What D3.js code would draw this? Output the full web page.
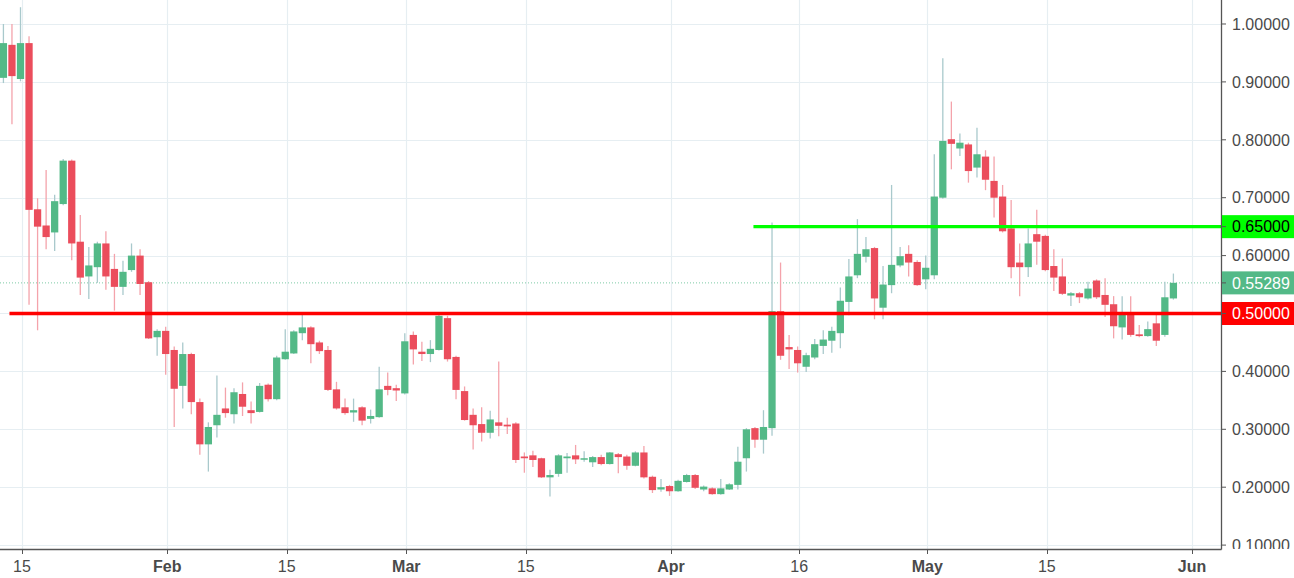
<!DOCTYPE html>
<html>
<head>
<meta charset="utf-8">
<script src="https://cdn.jsdelivr.net/npm/d3@7"></script>
<style>
  html, body { margin: 0; padding: 0; background: #ffffff; overflow: hidden; }
  svg { display: block; font-family: "Liberation Sans", Arial, sans-serif; }
</style>
</head>
<body>
<svg id="chart" width="1294" height="578"></svg>
<script>
// ---------- DATA (daily candles, 13 Jan 2018 .. 30 May 2018) ----------
const firstDay = "2018-01-13";
const lastDay = "2018-05-30";

const opens = [
  0.907,0.964,0.905,0.967,0.680,0.652,0.640,0.689,0.764,0.624,
  0.564,0.580,0.621,0.577,0.546,0.575,0.600,0.554,0.459,0.470,
  0.437,0.375,0.430,0.347,0.274,0.307,0.336,0.326,0.361,0.333,
  0.330,0.377,0.352,0.421,0.431,0.466,0.476,0.450,0.437,0.369,
  0.338,0.329,0.338,0.318,0.321,0.375,0.371,0.362,0.463,0.434,
  0.430,0.437,0.492,0.425,0.366,0.325,0.309,0.294,0.312,0.308,
  0.310,0.253,0.255,0.250,0.217,0.223,0.250,0.255,0.248,0.243,
  0.252,0.240,0.257,0.253,0.237,0.260,0.218,0.196,0.202,0.193,
  0.209,0.221,0.196,0.198,0.188,0.196,0.204,0.250,0.302,0.282,
  0.302,0.504,0.442,0.437,0.408,0.424,0.444,0.453,0.466,0.520,
  0.566,0.598,0.613,0.510,0.549,0.583,0.603,0.589,0.559,0.566,
  0.700,0.801,0.785,0.792,0.752,0.771,0.729,0.702,0.647,0.588,
  0.580,0.637,0.634,0.582,0.564,0.531,0.535,0.526,0.557,0.532,
  0.516,0.476,0.501,0.464,0.461,0.483,0.463,0.526
];
const highs = [
  1.000,1.000,1.029,0.979,0.699,0.748,0.705,0.767,0.766,0.670,
  0.615,0.624,0.642,0.603,0.591,0.621,0.611,0.556,0.473,0.477,
  0.443,0.450,0.432,0.353,0.312,0.393,0.372,0.371,0.381,0.348,
  0.380,0.379,0.427,0.473,0.471,0.500,0.478,0.453,0.444,0.382,
  0.353,0.353,0.340,0.334,0.408,0.398,0.377,0.466,0.469,0.451,
  0.454,0.500,0.496,0.427,0.374,0.336,0.338,0.332,0.417,0.320,
  0.312,0.260,0.263,0.251,0.230,0.257,0.259,0.273,0.262,0.254,
  0.256,0.261,0.259,0.256,0.262,0.271,0.220,0.214,0.204,0.213,
  0.223,0.223,0.203,0.200,0.214,0.207,0.270,0.302,0.304,0.333,
  0.657,0.588,0.463,0.443,0.432,0.456,0.471,0.477,0.545,0.594,
  0.663,0.632,0.615,0.582,0.722,0.615,0.618,0.592,0.600,0.775,
  0.941,0.866,0.811,0.795,0.821,0.782,0.771,0.722,0.696,0.621,
  0.647,0.679,0.636,0.611,0.595,0.537,0.537,0.555,0.559,0.561,
  0.530,0.530,0.530,0.480,0.486,0.501,0.555,0.569
];
const lows = [
  0.898,0.827,0.901,0.515,0.471,0.611,0.608,0.687,0.592,0.532,
  0.525,0.553,0.541,0.505,0.532,0.572,0.532,0.456,0.427,0.394,
  0.304,0.336,0.326,0.256,0.227,0.286,0.320,0.310,0.323,0.310,
  0.329,0.348,0.350,0.420,0.430,0.454,0.414,0.430,0.366,0.334,
  0.325,0.313,0.307,0.310,0.320,0.359,0.349,0.360,0.412,0.418,
  0.416,0.436,0.417,0.352,0.315,0.265,0.279,0.284,0.288,0.292,
  0.242,0.225,0.235,0.216,0.184,0.218,0.225,0.240,0.244,0.235,
  0.238,0.239,0.224,0.230,0.236,0.215,0.190,0.192,0.185,0.192,
  0.208,0.197,0.193,0.187,0.187,0.195,0.196,0.227,0.268,0.258,
  0.289,0.420,0.404,0.398,0.399,0.421,0.430,0.432,0.440,0.497,
  0.561,0.588,0.490,0.490,0.535,0.580,0.564,0.548,0.542,0.559,
  0.698,0.749,0.772,0.726,0.735,0.713,0.666,0.640,0.561,0.530,
  0.563,0.584,0.573,0.539,0.532,0.513,0.518,0.524,0.525,0.494,
  0.457,0.455,0.460,0.459,0.460,0.444,0.460,0.524
];
const closes = [
  0.967,0.910,0.967,0.679,0.650,0.632,0.694,0.764,0.621,0.562,
  0.583,0.621,0.564,0.546,0.572,0.600,0.551,0.457,0.470,0.430,
  0.370,0.430,0.347,0.274,0.304,0.325,0.328,0.364,0.339,0.328,
  0.375,0.352,0.424,0.434,0.469,0.476,0.447,0.435,0.368,0.336,
  0.328,0.333,0.315,0.323,0.369,0.368,0.367,0.452,0.438,0.430,
  0.439,0.496,0.421,0.368,0.316,0.307,0.294,0.317,0.306,0.305,
  0.247,0.250,0.247,0.217,0.221,0.255,0.253,0.248,0.250,0.252,
  0.240,0.260,0.252,0.237,0.260,0.217,0.195,0.200,0.193,0.211,
  0.221,0.199,0.201,0.188,0.198,0.205,0.244,0.300,0.282,0.304,
  0.504,0.427,0.438,0.414,0.428,0.447,0.455,0.470,0.522,0.564,
  0.603,0.611,0.526,0.550,0.584,0.599,0.588,0.549,0.579,0.702,
  0.798,0.793,0.795,0.746,0.775,0.731,0.700,0.642,0.580,0.580,
  0.621,0.624,0.575,0.562,0.534,0.535,0.528,0.543,0.528,0.515,
  0.478,0.499,0.463,0.461,0.473,0.453,0.528,0.553
];

const lastPrice = 0.55289;
const supportLevel = 0.50;
const resistanceLevel = 0.65;
const resistanceStart = "2018-04-11";
const supportStart = "2018-01-14";

const xTickDates = ["2018-01-15","2018-02-01","2018-02-15","2018-03-01","2018-03-15",
                    "2018-04-01","2018-04-16","2018-05-01","2018-05-15","2018-06-01"];
const xTickLabels = ["15","Feb","15","Mar","15","Apr","16","May","15","Jun"];
const xTickBold   = [false,true,false,true,false,true,false,true,false,true];
const yTickValues = [0.1,0.2,0.3,0.4,0.5,0.6,0.7,0.8,0.9,1.0];

// ---------- LAYOUT ----------
const W = 1294, H = 578;
const plotRight = 1221, plotBottom = 549;
const parse = d3.utcParse("%Y-%m-%d");
const DAY = 864e5;
const anchor = parse("2018-01-15");
const pxPerDay = 8.54;

const days = d3.utcDay.range(parse(firstDay), d3.utcDay.offset(parse(lastDay), 1));
const candles = days.map((d, i) => ({date: d, o: opens[i], h: highs[i], l: lows[i], c: closes[i]}));

const x = d3.scaleUtc()
  .domain([new Date(+anchor - 22 / pxPerDay * DAY), new Date(+anchor + (plotRight - 22) / pxPerDay * DAY)])
  .range([0, plotRight]);
const y = d3.scaleLinear().domain([0.09326, 1.04145]).range([plotBottom, 0]);

const UP = "#53b987", DOWN = "#eb4d5c";
const UP_WICK = "#a9c9cc", DOWN_WICK = "#f4a3ab";
const GRID = "#e6eef2";
const AXIS = "#555555";
const TEXT = "#4a4a4a";

const svg = d3.select("#chart");
svg.append("rect").attr("width", W).attr("height", H).attr("fill", "#fff");

const defs = svg.append("defs");
defs.append("clipPath").attr("id", "plotClip")
  .append("rect").attr("x", 0).attr("y", 0).attr("width", plotRight).attr("height", plotBottom);
defs.append("clipPath").attr("id", "yLabClip")
  .append("rect").attr("x", plotRight).attr("y", 0).attr("width", W - plotRight).attr("height", plotBottom);

const plot = svg.append("g").attr("clip-path", "url(#plotClip)");

// grid
const xTicks = xTickDates.map(parse);
plot.append("g").selectAll("line").data(yTickValues).join("line")
  .attr("x1", 0).attr("x2", plotRight)
  .attr("y1", d => Math.round(y(d)) + 0.5).attr("y2", d => Math.round(y(d)) + 0.5)
  .attr("stroke", GRID).attr("stroke-width", 1.2);
plot.append("g").selectAll("line").data(xTicks).join("line")
  .attr("x1", d => Math.round(x(d)) + 0.5).attr("x2", d => Math.round(x(d)) + 0.5)
  .attr("y1", 0).attr("y2", plotBottom)
  .attr("stroke", GRID).attr("stroke-width", 1.2);

// last price dotted line
plot.append("line")
  .attr("x1", 0).attr("x2", plotRight)
  .attr("y1", y(lastPrice)).attr("y2", y(lastPrice))
  .attr("stroke", UP).attr("stroke-opacity", 0.75)
  .attr("stroke-width", 1).attr("stroke-dasharray", "1,2");

// candles
const cw = pxPerDay * 0.85;
const off = -1.5;
const cg = plot.append("g");
cg.selectAll("line.wick").data(candles).join("line").attr("class", "wick")
  .attr("x1", d => x(d.date) + off).attr("x2", d => x(d.date) + off)
  .attr("y1", d => y(d.h)).attr("y2", d => y(d.l))
  .attr("stroke", d => d.c >= d.o ? UP_WICK : DOWN_WICK)
  .attr("stroke-width", 1.3);
cg.selectAll("rect.body").data(candles).join("rect").attr("class", "body")
  .attr("x", d => x(d.date) + off - cw / 2)
  .attr("width", cw)
  .attr("y", d => y(Math.max(d.o, d.c)))
  .attr("height", d => Math.max(1.5, Math.abs(y(d.o) - y(d.c))))
  .attr("fill", d => d.c >= d.o ? UP : DOWN);

// horizontal levels
plot.append("line")
  .attr("x1", x(parse(supportStart)) - 4).attr("x2", plotRight)
  .attr("y1", y(supportLevel)).attr("y2", y(supportLevel))
  .attr("stroke", "#ff0000").attr("stroke-width", 3.4);
plot.append("line")
  .attr("x1", x(parse(resistanceStart)) - 3).attr("x2", plotRight)
  .attr("y1", y(resistanceLevel)).attr("y2", y(resistanceLevel))
  .attr("stroke", "#00ff00").attr("stroke-width", 3.2);

// axes lines
svg.append("line").attr("x1", plotRight + 0.5).attr("x2", plotRight + 0.5)
  .attr("y1", 0).attr("y2", plotBottom + 0.5).attr("stroke", AXIS).attr("stroke-width", 1.3);
svg.append("line").attr("x1", 0).attr("x2", plotRight + 0.5)
  .attr("y1", plotBottom + 0.5).attr("y2", plotBottom + 0.5).attr("stroke", AXIS).attr("stroke-width", 1.3);

// y axis labels (clipped at plot bottom)
const yLab = svg.append("g").attr("clip-path", "url(#yLabClip)");
const fmt = d3.format(".5f");
yLab.selectAll("line").data(yTickValues).join("line")
  .attr("x1", plotRight).attr("x2", plotRight + 5)
  .attr("y1", d => y(d)).attr("y2", d => y(d))
  .attr("stroke", AXIS).attr("stroke-width", 1);
yLab.selectAll("text").data(yTickValues).join("text")
  .attr("x", 1232).attr("y", d => y(d))
  .attr("dy", "0.36em")
  .attr("font-size", 16).attr("fill", TEXT)
  .text(d => fmt(d));

// price label boxes
const boxes = [
  {v: resistanceLevel, bg: "#00ff00", fg: "#000000"},
  {v: lastPrice, bg: UP, fg: "#ffffff"},
  {v: supportLevel, bg: "#ff0000", fg: "#ffffff"}
];
const bx = svg.append("g");
boxes.forEach(b => {
  bx.append("rect").attr("x", plotRight + 1).attr("y", y(b.v) - 11.5)
    .attr("width", W - plotRight - 1).attr("height", 23).attr("fill", b.bg);
  bx.append("line").attr("x1", plotRight).attr("x2", plotRight + 5)
    .attr("y1", y(b.v)).attr("y2", y(b.v)).attr("stroke", AXIS);
  bx.append("text").attr("x", 1232).attr("y", y(b.v)).attr("dy", "0.36em")
    .attr("font-size", 16).attr("fill", b.fg).text(fmt(b.v));
});

// x axis ticks and labels
const xa = svg.append("g");
xa.selectAll("line").data(xTicks).join("line")
  .attr("x1", d => Math.round(x(d)) + 0.5).attr("x2", d => Math.round(x(d)) + 0.5)
  .attr("y1", plotBottom).attr("y2", plotBottom + 5)
  .attr("stroke", AXIS).attr("stroke-width", 1);
xa.selectAll("text").data(xTicks).join("text")
  .attr("x", d => x(d)).attr("y", 572)
  .attr("text-anchor", "middle")
  .attr("font-size", 16)
  .attr("font-weight", (d, i) => xTickBold[i] ? "bold" : "normal")
  .attr("fill", TEXT)
  .text((d, i) => xTickLabels[i]);
</script>
</body>
</html>
